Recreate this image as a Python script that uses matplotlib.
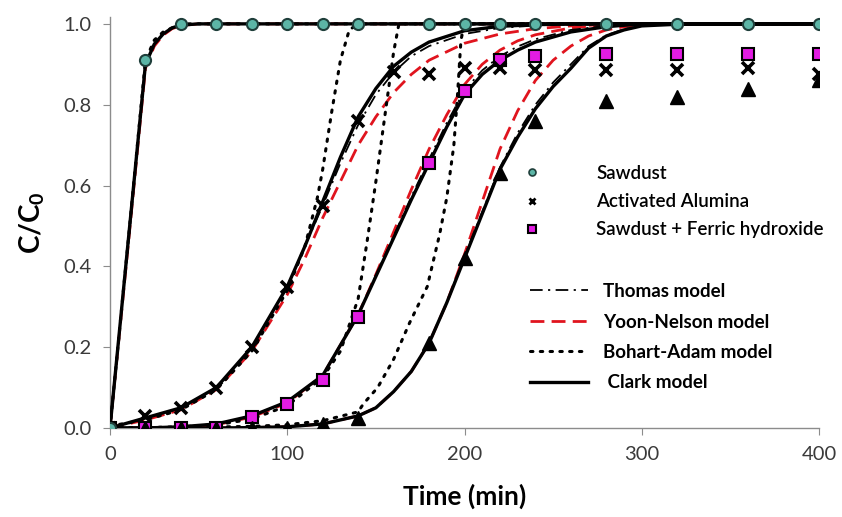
import matplotlib
matplotlib.use("Agg")
import matplotlib.pyplot as plt
from matplotlib.lines import Line2D

plt.rcParams['font.family'] = ['Lato', 'DejaVu Sans']
plt.rcParams['mathtext.fontset'] = 'custom'
plt.rcParams['mathtext.rm'] = 'Lato'
plt.rcParams['mathtext.bf'] = 'Lato:bold'

# Measured points ############################################################
t_saw = [0, 20, 40, 60, 80, 100, 120, 140, 180, 200, 220, 240, 280, 320, 360, 400]
c_saw = [0, 0.91, 1.0, 1.0, 1.0, 1.0, 1.0, 1.0, 1.0, 1.0, 1.0, 1.0, 1.0, 1.0, 1.0, 1.0]

t_alu = [0, 20, 40, 60, 80, 100, 120, 140, 160, 180, 200, 220, 240, 280, 320, 360, 400]
c_alu = [0, 0.03, 0.05, 0.10, 0.20, 0.35, 0.55, 0.76, 0.88, 0.875, 0.89, 0.89,
         0.885, 0.885, 0.885, 0.89, 0.875]

t_fer = [0, 20, 40, 60, 80, 100, 120, 140, 180, 200, 220, 240, 280, 320, 360, 400]
c_fer = [0, 0, 0, 0, 0.027, 0.06, 0.12, 0.275, 0.655, 0.835, 0.91, 0.92,
         0.925, 0.925, 0.925, 0.925]

t_tri = [0, 20, 40, 60, 80, 100, 120, 140, 180, 200, 220, 240, 280, 320, 360, 400]
c_tri = [0, 0, 0, 0, 0, 0, 0.01, 0.025, 0.21, 0.42, 0.63, 0.76, 0.81, 0.82, 0.84, 0.86]

# Model curves ###############################################################
tm_saw = [0, 10, 20, 25, 30, 35, 40, 50, 60, 400]
clark_saw = [0, 0.45, 0.90, 0.95, 0.975, 0.99, 0.997, 1.0, 1.0, 1.0]
thomas_saw = [0, 0.45, 0.90, 0.95, 0.975, 0.99, 0.997, 1.0, 1.0, 1.0]
yn_saw = [0, 0.44, 0.89, 0.945, 0.972, 0.988, 0.996, 1.0, 1.0, 1.0]
ba_saw = [0, 0.45, 0.91, 0.96, 0.98, 0.99, 1.0, 1.0, 1.0, 1.0]

tm_alu = [0, 20, 40, 60, 80, 100, 110, 120, 130, 140, 150, 160, 170, 180, 200,
          220, 240, 260, 280, 300, 400]
clark_alu = [0, 0.025, 0.05, 0.10, 0.20, 0.35, 0.45, 0.56, 0.67, 0.77, 0.84, 0.895,
             0.93, 0.955, 0.983, 0.994, 0.998, 1.0, 1.0, 1.0, 1.0]
thomas_alu = [0, 0.025, 0.05, 0.10, 0.20, 0.35, 0.45, 0.55, 0.655, 0.75, 0.825, 0.88,
              0.92, 0.945, 0.975, 0.99, 0.996, 0.999, 1.0, 1.0, 1.0]
yn_alu = [0, 0.02, 0.045, 0.095, 0.19, 0.33, 0.42, 0.52, 0.61, 0.70, 0.77, 0.83,
          0.875, 0.91, 0.952, 0.975, 0.988, 0.995, 0.998, 1.0, 1.0]
tba_alu = [0, 20, 40, 60, 80, 100, 110, 117, 120, 125, 130, 135, 140, 400]
ba_alu = [0.005, 0.02, 0.045, 0.095, 0.19, 0.34, 0.45, 0.57, 0.64, 0.78, 0.91, 0.985,
          1.0, 1.0]

tm_fer = [0, 20, 40, 60, 80, 100, 120, 140, 150, 160, 170, 180, 190, 200, 210,
          220, 230, 240, 260, 280, 300, 400]
clark_fer = [0, 0.0, 0.003, 0.01, 0.03, 0.065, 0.13, 0.28, 0.375, 0.47, 0.565, 0.655,
             0.745, 0.825, 0.875, 0.91, 0.935, 0.955, 0.98, 0.993, 1.0, 1.0]
thomas_fer = [0, 0.0, 0.003, 0.01, 0.03, 0.065, 0.13, 0.28, 0.378, 0.475, 0.572, 0.665,
              0.755, 0.835, 0.885, 0.92, 0.944, 0.962, 0.985, 0.995, 1.0, 1.0]
yn_fer = [0, 0.0, 0.002, 0.008, 0.027, 0.062, 0.13, 0.28, 0.38, 0.485, 0.59, 0.69,
          0.775, 0.85, 0.90, 0.935, 0.958, 0.973, 0.99, 0.997, 1.0, 1.0]
tba_fer = [0, 20, 40, 60, 80, 100, 120, 130, 140, 145, 150, 155, 160, 163, 170, 400]
ba_fer = [0.0, 0.001, 0.003, 0.008, 0.022, 0.055, 0.125, 0.19, 0.32, 0.46, 0.61, 0.77,
          0.93, 1.0, 1.0, 1.0]

tm_tri = [0, 20, 40, 60, 80, 100, 120, 140, 150, 160, 170, 180, 190, 200, 210, 220,
          230, 240, 250, 260, 270, 280, 290, 300, 320, 400]
clark_tri = [0, 0, 0, 0, 0.001, 0.003, 0.01, 0.03, 0.05, 0.09, 0.14, 0.21, 0.31, 0.42,
             0.53, 0.64, 0.72, 0.79, 0.845, 0.89, 0.94, 0.97, 0.985, 0.995, 0.999, 1.0]
thomas_tri = [0, 0, 0, 0, 0.001, 0.003, 0.01, 0.03, 0.05, 0.09, 0.14, 0.21, 0.31, 0.425,
              0.535, 0.645, 0.73, 0.80, 0.855, 0.90, 0.945, 0.972, 0.987, 0.995, 0.999, 1.0]
yn_tri = [0, 0, 0, 0, 0.001, 0.003, 0.01, 0.03, 0.05, 0.09, 0.14, 0.21, 0.31, 0.43,
          0.56, 0.69, 0.785, 0.86, 0.91, 0.945, 0.97, 0.985, 0.993, 0.997, 1.0, 1.0]
tba_tri = [0, 40, 80, 100, 120, 140, 143, 151, 160, 169, 179, 186, 190, 194, 196, 198, 200, 400]
ba_tri = [0, 0.001, 0.004, 0.008, 0.018, 0.04, 0.06, 0.10, 0.17, 0.26, 0.35, 0.48, 0.57,
          0.70, 0.82, 0.96, 1.0, 1.0]

# Style ######################################################################
THOMAS_LS = (0, (7, 3, 1.2, 3))
YN_LS = (0, (5, 2.6))
BA_LS = (0, (0.8, 2.4))
RED = '#e0141e'
GRAY = '#8c8c8c'
TEAL = '#5cb5a6'
MAGENTA = '#e31ce3'

fig = plt.figure(figsize=(8.42, 5.17), dpi=100)
ax = fig.add_axes([110 / 842, 1 - 428 / 517, 709 / 842, 411 / 517])

models = [
    (tm_saw, clark_saw, thomas_saw, yn_saw, tm_saw, ba_saw),
    (tm_alu, clark_alu, thomas_alu, yn_alu, tba_alu, ba_alu),
    (tm_fer, clark_fer, thomas_fer, yn_fer, tba_fer, ba_fer),
    (tm_tri, clark_tri, thomas_tri, yn_tri, tba_tri, ba_tri),
]
for tm, cl, th, yn, tb, ba in models:
    ax.plot(tm, yn, color=RED, lw=2.0, ls=YN_LS, zorder=2)
    ax.plot(tm, th, color='black', lw=1.3, ls=THOMAS_LS, zorder=3)
    ax.plot(tb, ba, color='black', lw=2.2, ls=BA_LS, dash_capstyle='round', zorder=3)
    ax.plot(tm, cl, color='black', lw=2.4, zorder=4)

ax.plot(t_fer, c_fer, ls='none', marker='s', ms=9, mfc=MAGENTA, mec='black',
        mew=1.5, zorder=5)
ax.plot(t_tri, c_tri, ls='none', marker='^', ms=10.5, color='black', zorder=6)
ax.plot(t_alu, c_alu, ls='none', marker='x', ms=8.5, mew=2.6, color='black', zorder=6)
ax.plot(t_saw, c_saw, ls='none', marker='o', ms=8, mfc=TEAL, mec='#1f3f3b',
        mew=1.5, zorder=7)

ax.set_xlim(0, 400)
ax.set_ylim(0, 1.017)
ax.set_xticks([0, 100, 200, 300, 400])
ax.set_yticks([0, 0.2, 0.4, 0.6, 0.8, 1.0])
ax.set_yticklabels(['0.0', '0.2', '0.4', '0.6', '0.8', '1.0'])
for s in ['top', 'right']:
    ax.spines[s].set_visible(False)
for s in ['left', 'bottom']:
    ax.spines[s].set_color(GRAY)
    ax.spines[s].set_linewidth(1.0)
ax.tick_params(direction='out', length=5, color=GRAY, labelsize=14.5,
               labelcolor='#3a3a3a', pad=8)

ax.set_xlabel('Time (min)', fontsize=19, fontweight='bold', labelpad=15)
ax.set_ylabel(r'$\mathbf{C/C_0}$', fontsize=20, labelpad=12)

# Legends ####################################################################
h1 = [
    Line2D([], [], ls='none', marker='o', ms=5, mfc=TEAL, mec='#1f3f3b', mew=1.2),
    Line2D([], [], ls='none', marker='x', ms=5, mew=2.0, color='black'),
    Line2D([], [], ls='none', marker='s', ms=6, mfc=MAGENTA, mec='black', mew=1.5),
]
leg1 = fig.legend(h1, ['Sawdust', 'Activated Alumina', 'Sawdust + Ferric hydroxide'],
                  loc='upper left', bbox_to_anchor=(523 / 842, 1 - 165 / 517),
                  frameon=False, handlelength=1.0, handletextpad=2.9,
                  labelspacing=0.6, borderpad=0, borderaxespad=0,
                  prop={'weight': 'semibold', 'size': 13.5})

h2 = [
    Line2D([], [], color='black', lw=1.3, ls=THOMAS_LS),
    Line2D([], [], color=RED, lw=2.0, ls=YN_LS),
    Line2D([], [], color='black', lw=2.2, ls=BA_LS, dash_capstyle='round'),
    Line2D([], [], color='black', lw=2.4),
]
leg2 = fig.legend(h2, ['Thomas model', 'Yoon-Nelson model', 'Bohart-Adam model', ' Clark model'],
                  loc='upper left', bbox_to_anchor=(530 / 842, 1 - 283 / 517),
                  frameon=False, handlelength=3.1, handletextpad=0.8,
                  labelspacing=0.72, borderpad=0, borderaxespad=0,
                  prop={'weight': 'bold', 'size': 13.5})

plt.savefig('out.png', dpi=100)
plt.close()
